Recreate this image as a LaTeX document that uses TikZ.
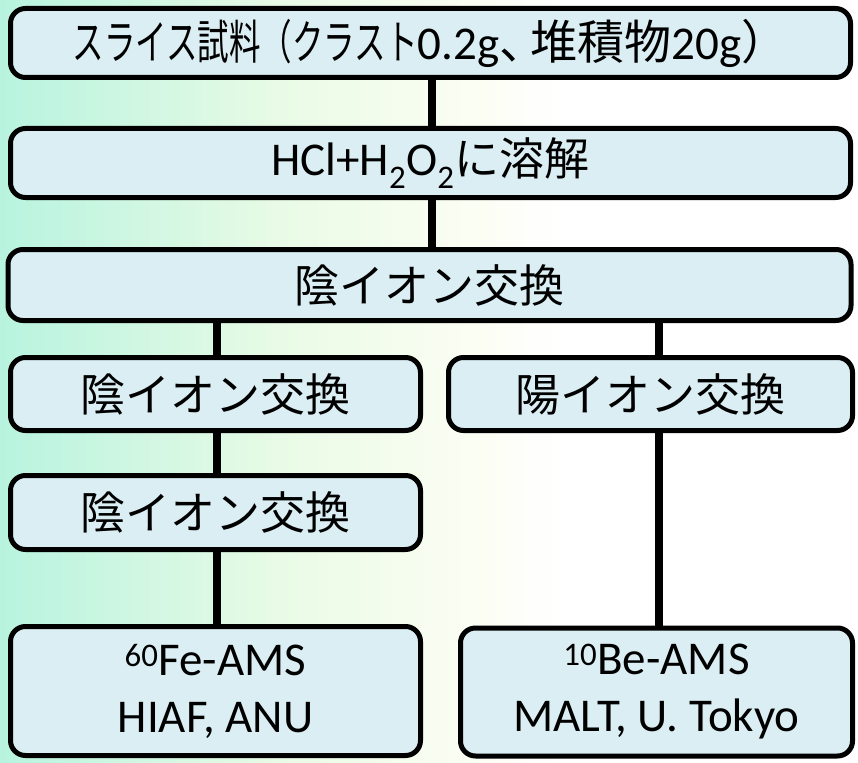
\documentclass[tikz,border=0pt]{standalone}
\usepackage{fontspec}
\setmainfont{Carlito}
\newfontfamily\jp{Noto Sans CJK JP}
\usepackage{graphicx}
\definecolor{boxfill}{RGB}{218,238,243}
\definecolor{bgA}{RGB}{95,224,206}
\definecolor{bgB}{RGB}{175,242,222}
\definecolor{bgC}{RGB}{234,251,230}
\definecolor{bgD}{RGB}{252,254,244}
\pgfdeclarehorizontalshading{bgshade}{100bp}{color(0bp)=(bgA); color(22bp)=(bgB); color(42bp)=(bgC); color(53bp)=(bgD); color(58bp)=(white); color(100bp)=(white)}
\begin{document}
\begin{tikzpicture}[x=1pt,y=-1pt,
  box/.style={draw=black, line width=5pt, fill=boxfill, rounded corners=15pt,
    inner sep=0pt, align=center, font=\fontsize{47}{57}\selectfont},
  jpt/.style={font=\fontsize{45}{55}\selectfont\jp},
  link/.style={draw=black, line width=8pt}]
\shade[shading=bgshade] (0,0) rectangle (858,762);
\useasboundingbox (0,0) rectangle (858,762);
\node[box, minimum width=840pt, minimum height=69pt] (b1) at (430.5,43)
  {{\jp\scalebox{0.67}[1]{スライス試料（クラスト}}0.2g{\jp 、\kern-16pt 堆積物}20g{\jp ）}};
\node[box, minimum width=840pt, minimum height=69pt] (b2) at (430.5,163)
  {HCl+H\textsubscript{2}O\textsubscript{2}{\jp\fontsize{45}{55}\selectfont に溶解}};
\node[box, jpt, minimum width=843pt, minimum height=71pt] (b3) at (429.5,285)
  {陰イオン交換};
\node[box, jpt, minimum width=410pt, minimum height=73pt] (b4) at (215.5,394)
  {陰イオン交換};
\node[box, jpt, minimum width=404pt, minimum height=73pt] (yo) at (650.5,394)
  {陽イオン交換};
\node[box, jpt, minimum width=410pt, minimum height=74pt] (b5) at (215.5,512.5)
  {陰イオン交換};
\node[box, minimum width=410pt, minimum height=129pt] (fe) at (215.5,691)
  {\textsuperscript{60}Fe-AMS\\HIAF, ANU};
\node[box, minimum width=392pt, minimum height=128pt] (be) at (656.5,692)
  {\textsuperscript{10}Be-AMS\\MALT, U. Tokyo};
\draw[link] ([xshift=1.5pt]b1.south) -- ([xshift=1.5pt]b2.north);
\draw[link] ([xshift=1.5pt]b2.south) -- ([xshift=2.5pt]b3.north);
\draw[link] ([xshift=1.5pt]b4.north |- b3.south) -- ([xshift=1.5pt]b4.north);
\draw[link] ([xshift=8.5pt]yo.north |- b3.south) -- ([xshift=8.5pt]yo.north);
\draw[link] ([xshift=1.5pt]b4.south) -- ([xshift=1.5pt]b5.north);
\draw[link] ([xshift=1.5pt]b5.south) -- ([xshift=1.5pt]fe.north);
\draw[link] ([xshift=8.5pt]yo.south) -- ([xshift=8.5pt]yo.south |- be.north);
\end{tikzpicture}
\end{document}
